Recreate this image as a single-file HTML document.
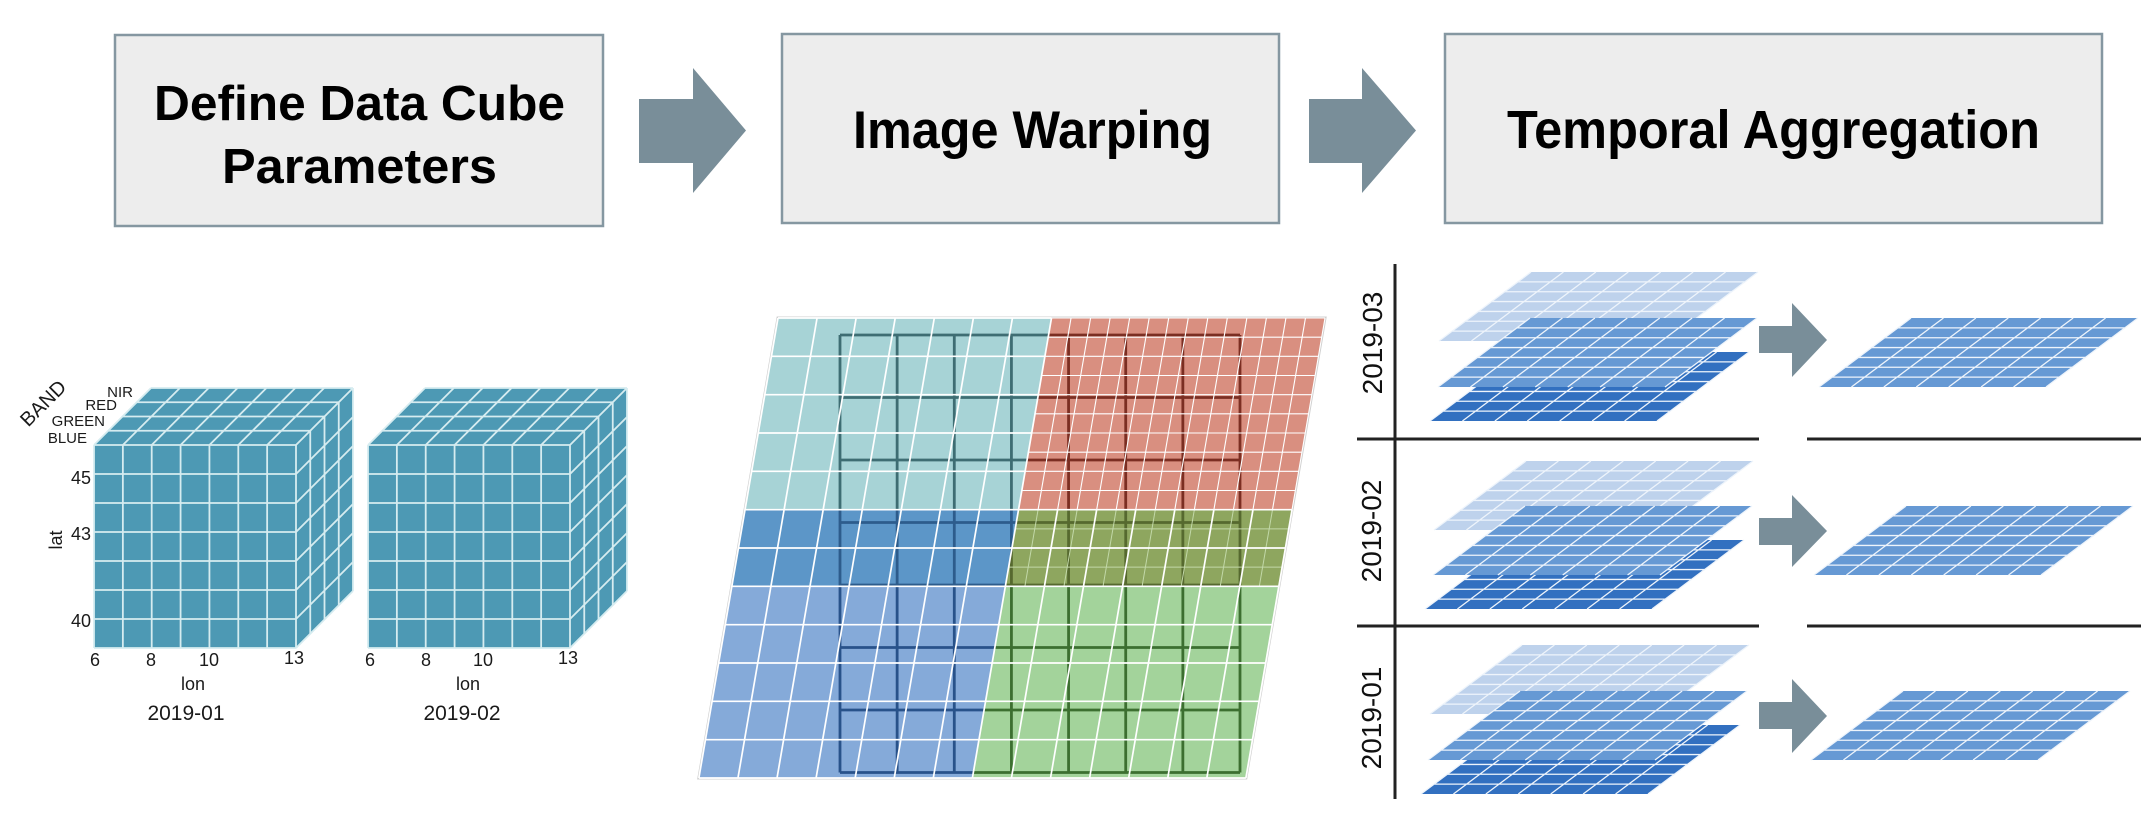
<!DOCTYPE html>
<html><head><meta charset="utf-8"><style>
html,body{margin:0;padding:0;background:#fff;}
svg{display:block;}
text{font-family:"Liberation Sans",Arial,sans-serif;}
</style></head><body>
<svg width="2141" height="816" viewBox="0 0 2141 816" xmlns="http://www.w3.org/2000/svg">
<defs>
  <g id="cube">
    <rect x="94" y="445" width="202" height="203" fill="#4d99b4"/>
    <polygon points="94,445 296,445 353,388 151,388" fill="#4d99b4"/>
    <polygon points="296,445 353,388 353,591 296,648" fill="#4d99b4"/>
    <path fill="none" stroke="#d6ecf0" stroke-width="1.8" stroke-linejoin="round" d="
      M94 445V648M122.86 445V648M151.71 445V648M180.57 445V648M209.43 445V648M238.29 445V648M267.14 445V648M296 445V648
      M94 445H296M94 474H296M94 503H296M94 532H296M94 561H296M94 590H296M94 619H296M94 648H296
      M94 445L151 388M122.86 445L179.86 388M151.71 445L208.71 388M180.57 445L237.57 388M209.43 445L266.43 388M238.29 445L295.29 388M267.14 445L324.14 388M296 445L353 388
      M108.25 430.75H310.25M122.5 416.5H324.5M136.75 402.25H338.75M151 388H353
      M310.25 430.75V633.75M324.5 416.5V619.5M338.75 402.25V605.25M353 388V591
      M296 474L353 417M296 503L353 446M296 532L353 475M296 561L353 504M296 590L353 533M296 619L353 562M296 648L353 591"/>
  </g>
  <g id="layer">
    <polygon points="-227,0 0,0 -92,69 -319,69"/>
    <path fill="none" stroke="#eef4fb" stroke-width="1.3" d="
      M-227 0L-319 69M-194.57 0L-286.57 69M-162.14 0L-254.14 69M-129.71 0L-221.71 69M-97.29 0L-189.29 69M-64.86 0L-156.86 69M-32.43 0L-124.43 69M0 0L-92 69
      M-240.14 9.857H-13.14M-253.29 19.714H-26.29M-266.43 29.571H-39.43M-279.57 39.429H-52.57M-292.71 49.286H-65.71M-305.86 59.143H-78.86"/>
  </g>
  <path id="dg" fill="none" stroke-width="2.8" d="
    M840 335V772.5M897.14 335V772.5M954.29 335V772.5M1011.43 335V772.5M1068.57 335V772.5M1125.71 335V772.5M1182.86 335V772.5M1240 335V772.5
    M840 335H1240M840 397.5H1240M840 460H1240M840 522.5H1240M840 585H1240M840 647.5H1240M840 710H1240M840 772.5H1240"/>
  <clipPath id="cTeal"><polygon points="778,318 1051.5,318 1018.54,509.67 745.04,509.67"/></clipPath>
  <clipPath id="cRed"><polygon points="1051.5,318 1325,318 1292.04,509.67 1018.54,509.67"/></clipPath>
  <clipPath id="cDB"><polygon points="745.04,509.67 1018.54,509.67 1005.35,586.33 731.85,586.33"/></clipPath>
  <clipPath id="cOl"><polygon points="1018.54,509.67 1292.04,509.67 1278.85,586.33 1005.35,586.33"/></clipPath>
  <clipPath id="cLB"><polygon points="731.85,586.33 1005.35,586.33 972.38,778 698.88,778"/></clipPath>
  <clipPath id="cGr"><polygon points="1005.35,586.33 1278.85,586.33 1245.88,778 972.38,778"/></clipPath>
</defs>

<!-- Top boxes -->
<rect x="115" y="35" width="488" height="191" fill="#ededed" stroke="#8597a1" stroke-width="2.5"/>
<rect x="782" y="34" width="497" height="189" fill="#ededed" stroke="#8597a1" stroke-width="2.5"/>
<rect x="1445" y="34" width="657" height="189" fill="#ededed" stroke="#8597a1" stroke-width="2.5"/>
<text x="154" y="120" font-size="49" font-weight="bold" fill="#000" textLength="411" lengthAdjust="spacingAndGlyphs">Define Data Cube</text>
<text x="222" y="183" font-size="49" font-weight="bold" fill="#000" textLength="275" lengthAdjust="spacingAndGlyphs">Parameters</text>
<text x="853" y="148" font-size="53" font-weight="bold" fill="#000" textLength="359" lengthAdjust="spacingAndGlyphs">Image Warping</text>
<text x="1507" y="148" font-size="54" font-weight="bold" fill="#000" textLength="533" lengthAdjust="spacingAndGlyphs">Temporal Aggregation</text>

<!-- Top arrows -->
<polygon points="639,99 693,99 693,68 746,130.5 693,193 693,163 639,163" fill="#798e99"/>
<polygon points="1309,99 1362,99 1362,68 1416,130.5 1362,193 1362,163 1309,163" fill="#798e99"/>

<!-- Cubes -->
<use href="#cube"/>
<use href="#cube" transform="translate(274,0)"/>

<g fill="#1a1a1a">
  <text transform="translate(43,403) rotate(-45)" text-anchor="middle" y="7" font-size="20">BAND</text>
  <text x="133" y="397" font-size="15" text-anchor="end">NIR</text>
  <text x="117" y="410" font-size="15" text-anchor="end">RED</text>
  <text x="105" y="426" font-size="15" text-anchor="end">GREEN</text>
  <text x="87" y="443" font-size="15" text-anchor="end">BLUE</text>
  <text x="91" y="484" font-size="18" text-anchor="end">45</text>
  <text x="91" y="540" font-size="18" text-anchor="end">43</text>
  <text x="91" y="627" font-size="18" text-anchor="end">40</text>
  <text transform="translate(62,540) rotate(-90)" text-anchor="middle" font-size="18">lat</text>
  <text x="95" y="666" font-size="18" text-anchor="middle">6</text>
  <text x="151" y="666" font-size="18" text-anchor="middle">8</text>
  <text x="209" y="666" font-size="18" text-anchor="middle">10</text>
  <text x="294" y="664" font-size="18" text-anchor="middle">13</text>
  <text x="193" y="690" font-size="18" text-anchor="middle">lon</text>
  <text x="186" y="720" font-size="21" text-anchor="middle">2019-01</text>
  <text x="370" y="666" font-size="18" text-anchor="middle">6</text>
  <text x="426" y="666" font-size="18" text-anchor="middle">8</text>
  <text x="483" y="666" font-size="18" text-anchor="middle">10</text>
  <text x="568" y="664" font-size="18" text-anchor="middle">13</text>
  <text x="468" y="690" font-size="18" text-anchor="middle">lon</text>
  <text x="462" y="720" font-size="21" text-anchor="middle">2019-02</text>
</g>

<!-- Warping figure -->
<polygon points="778,318 1325,318 1245.88,778 698.88,778" fill="none" stroke="#d0d0d0" stroke-width="3"/>
<polygon points="778,318 1051.5,318 1018.54,509.67 745.04,509.67" fill="#a7d3d6"/>
<polygon points="1051.5,318 1325,318 1292.04,509.67 1018.54,509.67" fill="#d98f80"/>
<polygon points="745.04,509.67 1018.54,509.67 1005.35,586.33 731.85,586.33" fill="#5c96c8"/>
<polygon points="1018.54,509.67 1292.04,509.67 1278.85,586.33 1005.35,586.33" fill="#8ea65f"/>
<polygon points="731.85,586.33 1005.35,586.33 972.38,778 698.88,778" fill="#85aad9"/>
<polygon points="1005.35,586.33 1278.85,586.33 1245.88,778 972.38,778" fill="#a3d39b"/>

<use href="#dg" stroke="#3e6d73" clip-path="url(#cTeal)"/>
<use href="#dg" stroke="#7b2e22" clip-path="url(#cRed)"/>
<use href="#dg" stroke="#2d5c8c" clip-path="url(#cDB)"/>
<use href="#dg" stroke="#56692f" clip-path="url(#cOl)"/>
<use href="#dg" stroke="#28528a" clip-path="url(#cLB)"/>
<use href="#dg" stroke="#3c6f30" clip-path="url(#cGr)"/>

<!-- faint red lines in olive overlap -->
<path fill="none" stroke="#c2d8a8" stroke-width="1" d="
  M1038.08 509.67L1024.89 586.33M1077.15 509.67L1063.96 586.33M1116.22 509.67L1103.03 586.33M1155.29 509.67L1142.10 586.33M1194.36 509.67L1181.17 586.33M1233.43 509.67L1220.24 586.33M1272.50 509.67L1259.31 586.33
  M1015.23 528.83H1288.73M1008.64 567.17H1282.14"/>
<!-- red fine grid -->
<path fill="none" stroke="#ffffff" stroke-width="1.1" d="
  M1071.04 318L1038.08 509.67M1090.57 318L1057.61 509.67M1110.11 318L1077.15 509.67M1129.64 318L1096.68 509.67M1149.18 318L1116.22 509.67M1168.71 318L1135.75 509.67M1188.25 318L1155.29 509.67M1207.79 318L1174.83 509.67M1227.32 318L1194.36 509.67M1246.86 318L1213.90 509.67M1266.39 318L1233.43 509.67M1285.93 318L1252.97 509.67M1305.46 318L1272.50 509.67M1325 318L1292.04 509.67
  M1051.5 318H1325M1048.20 337.17H1321.70M1044.91 356.33H1318.41M1041.61 375.5H1315.11M1038.31 394.67H1311.81M1035.02 413.83H1308.52M1031.72 433H1305.22M1028.42 452.17H1301.92M1025.13 471.33H1298.63M1021.83 490.5H1295.33"/>
<!-- left half grid -->
<path fill="none" stroke="#ffffff" stroke-width="1.7" d="
  M778 318L698.88 778M817.07 318L737.95 778M856.14 318L777.02 778M895.21 318L816.09 778M934.29 318L855.17 778M973.36 318L894.24 778M1012.43 318L933.31 778M1051.5 318L972.38 778
  M778 318H1051.5M771.41 356.33H1044.91M764.81 394.67H1038.31M758.22 433H1031.72M751.63 471.33H1025.13M745.04 509.67H1018.54M738.44 548H1011.94M731.85 586.33H1005.35M725.26 624.67H998.76M718.66 663H992.16M712.07 701.33H985.57M705.48 739.67H978.98M698.88 778H972.38"/>
<!-- green grid -->
<path fill="none" stroke="#ffffff" stroke-width="1.7" d="
  M1057.61 509.67L1011.45 778M1096.68 509.67L1050.52 778M1135.75 509.67L1089.59 778M1174.83 509.67L1128.67 778M1213.90 509.67L1167.74 778M1252.97 509.67L1206.81 778M1292.04 509.67L1245.88 778
  M1018.54 509.67H1292.04M1011.94 548H1285.44M1005.35 586.33H1278.85M998.76 624.67H1272.26M992.16 663H1265.66M985.57 701.33H1259.07M978.98 739.67H1252.48M972.38 778H1245.88"/>

<!-- Temporal aggregation: axes -->
<g stroke="#222" stroke-width="3" fill="none">
  <path d="M1395 264V799"/>
  <path d="M1357 439H1759M1807 439H2141"/>
  <path d="M1357 626H1759M1807 626H2141"/>
</g>
<g fill="#111" font-size="28">
  <text transform="translate(1372,343) rotate(-90)" text-anchor="middle" y="10">2019-03</text>
  <text transform="translate(1371,531) rotate(-90)" text-anchor="middle" y="10">2019-02</text>
  <text transform="translate(1371,718) rotate(-90)" text-anchor="middle" y="10">2019-01</text>
</g>

<!-- Row 2019-03 -->
<use href="#layer" fill="#bed2ec" transform="translate(1758,272)"/>
<use href="#layer" fill="#3270c0" transform="translate(1749,352)"/>
<use href="#layer" fill="#6699d4" transform="translate(1757,318)"/>
<use href="#layer" fill="#6699d4" transform="translate(2138,318)"/>
<polygon points="1759,326 1792,326 1792,303 1827,340 1792,377 1792,353 1759,353" fill="#798e99"/>

<!-- Row 2019-02 -->
<use href="#layer" fill="#bed2ec" transform="translate(1753,461)"/>
<use href="#layer" fill="#3270c0" transform="translate(1744,540)"/>
<use href="#layer" fill="#6699d4" transform="translate(1752,506)"/>
<use href="#layer" fill="#6699d4" transform="translate(2133,506)"/>
<polygon points="1759,518 1792,518 1792,495 1827,531 1792,567 1792,545 1759,545" fill="#798e99"/>

<!-- Row 2019-01 -->
<use href="#layer" fill="#bed2ec" transform="translate(1749,645)"/>
<use href="#layer" fill="#3270c0" transform="translate(1740,725)"/>
<use href="#layer" fill="#6699d4" transform="translate(1747,691)"/>
<use href="#layer" fill="#6699d4" transform="translate(2130,691)"/>
<polygon points="1759,702 1792,702 1792,679 1827,716 1792,753 1792,729 1759,729" fill="#798e99"/>
</svg>
</body></html>
